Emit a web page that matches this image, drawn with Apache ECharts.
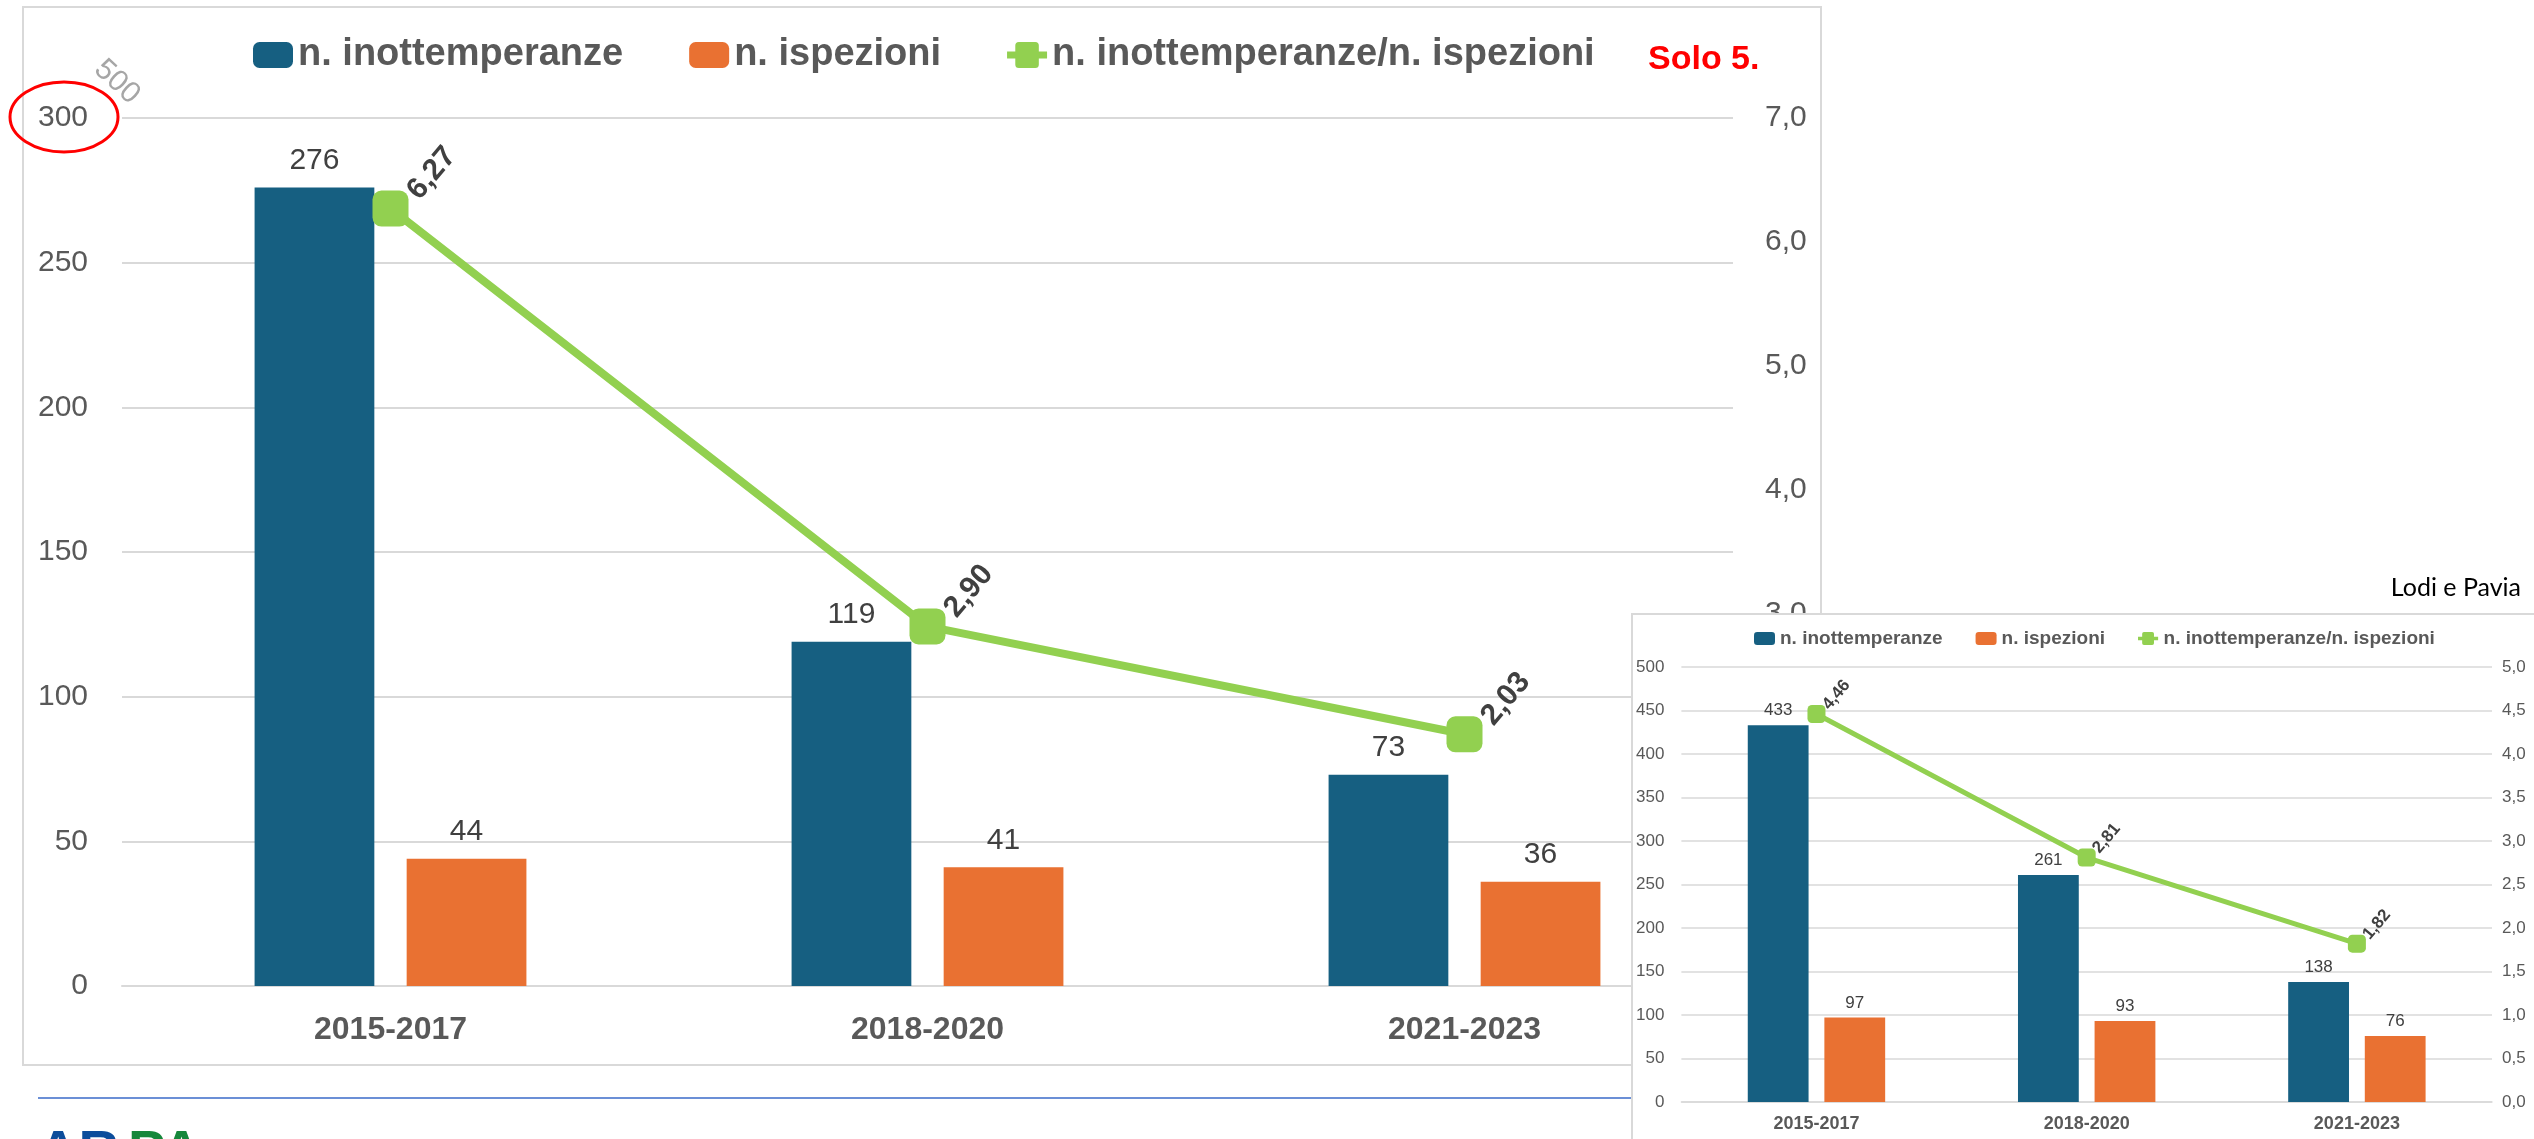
<!DOCTYPE html>
<html>
<head>
<meta charset="utf-8">
<script src="https://cdn.jsdelivr.net/npm/echarts@6/dist/echarts.min.js"></script>
<style>
  html, body { margin: 0; padding: 0; background: #ffffff; overflow: hidden; }
  #main { position: absolute; left: 0; top: 0; width: 2534px; height: 1139px; }
  #inset { position: absolute; left: 1631px; top: 613px; width: 905px; height: 528px;
           background: #ffffff; border: 2px solid #d9d9d9; box-sizing: border-box; }
</style>
</head>
<body>
<div id="main"></div>
<div id="inset"></div>
<script>
// Triennial periods
const categories = ['2015-2017', '2018-2020', '2021-2023'];

// Solo 5. (main chart)
const inottemperanze = [276, 119, 73];
const ispezioni = [44, 41, 36];
const rapporto = [6.27, 2.90, 2.03];

// Lodi e Pavia (inset chart)
const lodiInottemperanze = [433, 261, 138];
const lodiIspezioni = [97, 93, 76];
const lodiRapporto = [4.46, 2.81, 1.82];

// Axis ranges
const mainLeftAxis = { min: 0, max: 300, interval: 50 };
const mainRightAxis = { min: 0, max: 7, interval: 1 };
const lodiLeftAxis = { min: 0, max: 500, interval: 50 };
const lodiRightAxis = { min: 0, max: 5, interval: 0.5 };

const seriesNames = ['n. inottemperanze', 'n. ispezioni', 'n. inottemperanze/n. ispezioni'];

const BLUE = '#165f81';
const ORANGE = '#e97132';
const GREEN = '#92d050';
const SANS = "'Liberation Sans', Arial, sans-serif";
const comma = (v, d) => Number(v).toFixed(d).replace('.', ',');

// Legend glyph for the ratio line: rounded square marker with short line stubs
const LINE_MARKER_ICON = 'path://M0,8 L7,8 L7,3 Q7,0 10,0 L24,0 Q27,0 27,3 L27,8 L34,8 L34,14 L27,14 L27,19 Q27,22 24,22 L10,22 Q7,22 7,19 L7,14 L0,14 Z';

function buildOption(cfg) {
  return {
    animation: false,
    textStyle: { fontFamily: SANS },
    legend: {
      data: [{ name: seriesNames[0] }, { name: seriesNames[1] }, { name: seriesNames[2], icon: LINE_MARKER_ICON }],
      left: cfg.legendLeft, top: cfg.legendTop,
      itemWidth: cfg.legendItemW, itemHeight: cfg.legendItemH, itemGap: cfg.legendGap,
      textStyle: { fontFamily: SANS, fontWeight: 'bold', fontSize: cfg.legendFont, color: '#595959' }
    },
    grid: cfg.grid,
    xAxis: {
      type: 'category', data: categories,
      axisTick: { show: false },
      axisLine: { lineStyle: { color: '#d9d9d9', width: cfg.gridWidth } },
      axisLabel: { fontFamily: SANS, fontWeight: 'bold', fontSize: cfg.catFont, color: '#595959', margin: cfg.catMargin }
    },
    yAxis: [
      {
        type: 'value', min: cfg.left.min, max: cfg.left.max, interval: cfg.left.interval,
        axisLine: { show: false }, axisTick: { show: false },
        axisLabel: { fontSize: cfg.axisFont, color: '#595959', margin: cfg.leftMargin },
        splitLine: { lineStyle: { color: '#d9d9d9', width: cfg.gridWidth } }
      },
      {
        type: 'value', position: 'right', min: cfg.right.min, max: cfg.right.max, interval: cfg.right.interval,
        axisLine: { show: false }, axisTick: { show: false }, splitLine: { show: false },
        axisLabel: { fontSize: cfg.axisFont, color: '#595959', margin: cfg.rightMargin, formatter: v => comma(v, 1) }
      }
    ],
    series: [
      {
        name: seriesNames[0], type: 'bar', data: cfg.a,
        barWidth: cfg.barWidth, barGap: cfg.barGap,
        itemStyle: { color: BLUE },
        label: { show: true, position: 'top', distance: cfg.barLabelDist, fontSize: cfg.barLabelFont, color: '#404040' }
      },
      {
        name: seriesNames[1], type: 'bar', data: cfg.b,
        barWidth: cfg.barWidth, barGap: cfg.barGap,
        itemStyle: { color: ORANGE },
        label: { show: true, position: 'top', distance: cfg.barLabelDist, fontSize: cfg.barLabelFont, color: '#404040' }
      },
      {
        name: seriesNames[2], type: 'line', yAxisIndex: 1, data: cfg.r, z: 5,
        symbol: 'roundRect', symbolSize: cfg.symbolSize,
        lineStyle: { color: GREEN, width: cfg.lineWidth },
        itemStyle: { color: GREEN },
        label: {
          show: true, position: 'right', distance: cfg.ratioDist, offset: cfg.ratioOffset,
          rotate: 50, align: 'left', verticalAlign: 'middle',
          fontWeight: 'bold', fontSize: cfg.ratioFont, color: '#404040',
          formatter: p => comma(p.value, 2)
        }
      }
    ],
    graphic: cfg.graphic || []
  };
}

const mainChart = echarts.init(document.getElementById('main'), null, { renderer: 'canvas' });
mainChart.setOption(buildOption({
  legendLeft: 248, legendTop: 31, legendItemW: 40, legendItemH: 26, legendGap: 66, legendFont: 38,
  grid: { left: 122, right: 801, top: 118, bottom: 153 },
  gridWidth: 2, catFont: 32, catMargin: 28, axisFont: 30, leftMargin: 34, rightMargin: 32,
  left: mainLeftAxis, right: mainRightAxis,
  a: inottemperanze, b: ispezioni, r: rapporto,
  barWidth: '22.3%', barGap: '27%', barLabelDist: 12, barLabelFont: 30,
  symbolSize: 36, lineWidth: 8, ratioDist: 20, ratioOffset: [0, -20], ratioFont: 30,
  graphic: [
    { type: 'rect', silent: true, z: -10, shape: { x: 23, y: 7, width: 1798, height: 1058 },
      style: { fill: 'none', stroke: '#d9d9d9', lineWidth: 2 } },
    { type: 'ellipse', silent: true, shape: { cx: 64, cy: 117, rx: 54, ry: 35 },
      style: { fill: 'none', stroke: '#ff0000', lineWidth: 3 } },
    { type: 'text', silent: true, x: 117, y: 82, rotation: -0.75,
      style: { text: '500', fontFamily: SANS, fontSize: 30, fill: '#a6a6a6', align: 'center', verticalAlign: 'middle' } },
    { type: 'text', silent: true, x: 1648, y: 60,
      style: { text: 'Solo 5.', fontFamily: SANS, fontWeight: 'bold', fontSize: 34, fill: '#ff0000', align: 'left', verticalAlign: 'middle' } },
    { type: 'text', silent: true, x: 2521, y: 588,
      style: { text: 'Lodi e Pavia', fontFamily: "Lato, 'Liberation Sans', sans-serif", fontSize: 25, fill: '#000000', align: 'right', verticalAlign: 'middle' } },
    { type: 'line', silent: true, shape: { x1: 38, y1: 1098, x2: 1640, y2: 1098 },
      style: { stroke: '#6b8fd6', lineWidth: 2 } },
    { type: 'text', silent: true, x: 38, y: 1126,
      style: { text: 'AR', fontFamily: SANS, fontWeight: 'bold', fontSize: 56, fill: '#0c4d9b', align: 'left', verticalAlign: 'top' } },
    { type: 'text', silent: true, x: 128, y: 1126,
      style: { text: 'PA', fontFamily: SANS, fontWeight: 'bold', fontSize: 56, fill: '#16873b', align: 'left', verticalAlign: 'top' } }
  ]
}));

const insetChart = echarts.init(document.getElementById('inset'), null, { renderer: 'canvas' });
insetChart.setOption(buildOption({
  legendLeft: 116, legendTop: 9, legendItemW: 21, legendItemH: 13, legendGap: 33, legendFont: 19,
  grid: { left: 47, right: 42, top: 52, bottom: 37 },
  gridWidth: 1.5, catFont: 18, catMargin: 13, axisFont: 17, leftMargin: 17, rightMargin: 10,
  left: lodiLeftAxis, right: lodiRightAxis,
  a: lodiInottemperanze, b: lodiIspezioni, r: lodiRapporto,
  barWidth: '22.5%', barGap: '26%', barLabelDist: 6, barLabelFont: 17,
  symbolSize: 18, lineWidth: 5, ratioDist: 8, ratioOffset: [0, -10], ratioFont: 17
}));
</script>
</body>
</html>
